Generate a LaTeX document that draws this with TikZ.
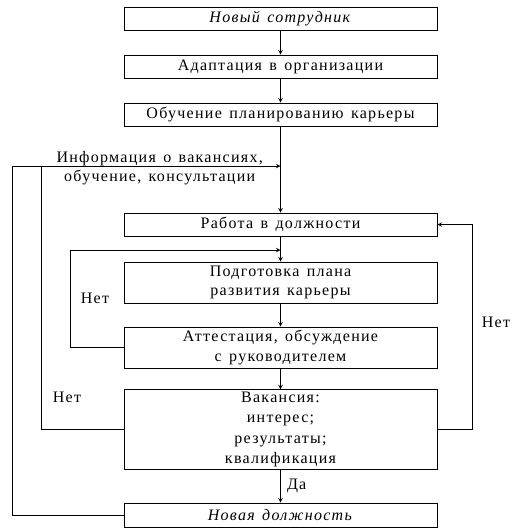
\documentclass[tikz,border=0pt]{standalone}
\usepackage{fontspec}
\setmainfont{Liberation Serif}[LetterSpace=8, WordSpace=1.4]
\usepackage{tikz}
\usetikzlibrary{arrows,positioning,calc}

\begin{document}
\begin{tikzpicture}[x=1pt, y=-1pt, >=stealth, line width=1pt,
    stage/.style={rectangle, draw, minimum width=313pt, align=center, inner sep=2pt, font=\fontsize{16}{19.5}\selectfont},
    note/.style={font=\fontsize{16}{19.5}\selectfont, align=center, inner sep=1pt}
]
    \useasboundingbox (0,0) rectangle (524,531);

    \node[stage, minimum height=23pt] (new) at (280.5,18.5) {\textit{Новый сотрудник}};
    \node[stage, minimum height=23pt] (adapt) at (280.5,66.5) {Адаптация в организации};
    \node[stage, minimum height=23pt] (learn) at (280.5,114.5) {Обучение планированию карьеры};
    \node[stage, minimum height=23pt] (work) at (280.5,224.5) {Работа в должности};
    \node[stage, minimum height=41pt] (plan) at (280.5,282.5) {Подготовка плана\\развития карьеры};
    \node[stage, minimum height=41pt] (rate) at (280.5,347.5) {Аттестация, обсуждение\\с руководителем};
    \node[stage, minimum height=75pt, font=\fontsize{16}{20.5}\selectfont] (vac) at (280.5,429.5) {Вакансия:\\интерес;\\результаты;\\квалификация};
    \node[stage, minimum height=24pt] (post) at (280.5,515) {\textit{Новая должность}};

    \coordinate (info) at (280.5,166);
    \coordinate (outer) at (12,166);
    \coordinate (inner) at (41,166);
    \coordinate (back) at (280.5,250);
    \coordinate (loop) at (70,250);
    \coordinate (right) at (472,224.5);

    \draw[->] (new) -- (adapt);
    \draw[->] (adapt) -- (learn);
    \draw[->] (learn) -- (work);
    \draw[->] (work) -- (plan);
    \draw[->] (plan) -- (rate);
    \draw[->] (rate) -- (vac);
    \draw[->] (vac) -- node[note, right=5pt] {Да} (post);

    \draw[->] (post.west) -| (outer) -- node[note, pos=0.55, yshift=-2pt] {Информация о вакансиях,\\обучение, консультации} (info);
    \draw (vac.west) -| (inner);
    \draw[->] (rate.west) -| (loop) -- (back);
    \draw[->] (vac.east) -| (right) -- (work.east);

    \node[note] (no1) at (95,298) {Нет};
    \node[note] (no2) at (67,397) {Нет};
    \node[note] (no3) at (496,322) {Нет};
\end{tikzpicture}
\end{document}
